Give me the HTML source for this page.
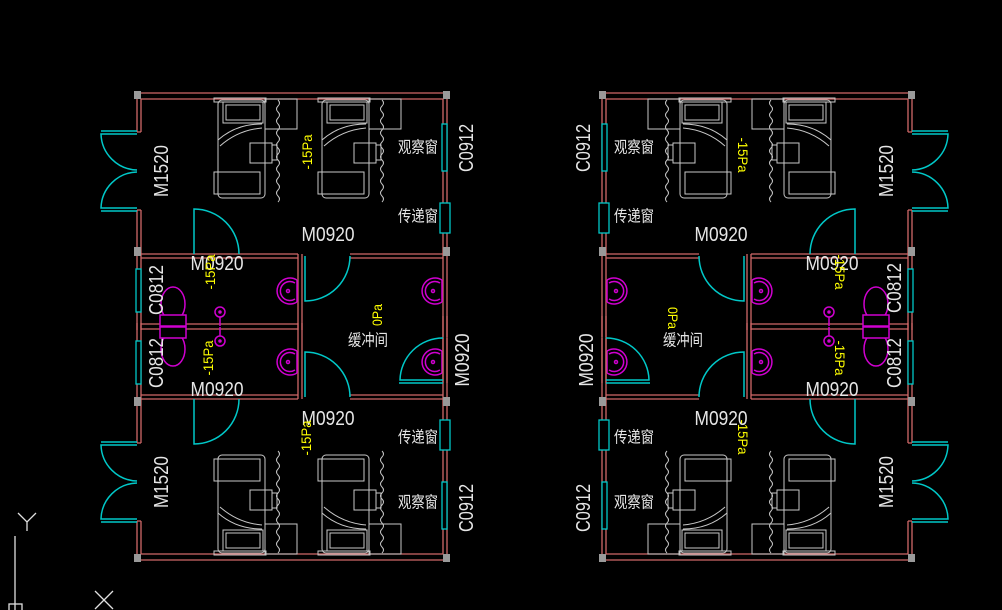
<!DOCTYPE html>
<html><head><meta charset="utf-8"><style>
html,body{margin:0;padding:0;background:#000;}
svg{display:block;}
text{font-family:"Liberation Sans","Noto Sans CJK SC",sans-serif;}
.w{fill:#e6e6e6;}
.y{fill:#ffff00;}
</style></head><body>
<svg width="1002" height="610" viewBox="0 0 1002 610" xmlns="http://www.w3.org/2000/svg">
<defs>
<g id="bed" fill="none" stroke="#c8c8c8" stroke-width="1">
  <rect x="214" y="98" width="52" height="4"/>
  <rect x="218" y="100" width="47" height="98" rx="4"/>
  <rect x="223" y="102" width="40" height="21"/>
  <rect x="226" y="105" width="34" height="15"/>
  <path d="M218,140 Q236,124 262,124 M220,146 Q238,130 262,128"/>
  <rect x="214" y="172" width="46" height="22"/>
  <rect x="250" y="143" width="22" height="20"/>
  <rect x="272" y="145" width="5" height="15"/>
  <rect x="265" y="99" width="32" height="30"/>
  <path d="M278,100 q3,3 0,6 q-3,3 0,6 q3,3 0,6 q-3,3 0,6 q3,3 0,6 q-3,3 0,6 q3,3 0,6 q-3,3 0,6 q3,3 0,6 q-3,3 0,6 q3,3 0,6 q-3,3 0,6 q3,3 0,6 q-3,3 0,6 q3,3 0,6 q-3,3 0,6 q3,3 0,6"/>
</g>
<g id="sink" fill="none" stroke="#d000d0" stroke-width="1.5">
  <path d="M297,280 A13,13 0 1 0 297,302"/>
  <path d="M295,283 A9.5,9.5 0 1 0 295,299"/>
  <path d="M297,280 V302"/>
  <circle cx="288" cy="291" r="1.5"/>
</g>
<g id="half">
  <g stroke="#d06868" stroke-width="1.3" fill="none">
    <path d="M137,93 H447 M141,99 H443"/>
    <path d="M137,93 V132 M141,99 V132 M137,210 V330 M141,210 V330"/>
    <path d="M443,99 V337 M447,93 V337"/>
    <path d="M141,254 H298 M141,258 H298"/>
    <path d="M298,254 V330 M302,254 V330"/>
    <path d="M350,254 H443 M350,258 H443"/>
    <path d="M141,324 H298"/>
    <path d="M137,132 H141 M137,210 H141"/>
  </g>
  <g fill="#9a9a9a">
    <rect x="134" y="91" width="7" height="8"/>
    <rect x="443" y="91" width="7" height="8"/>
    <rect x="134" y="247" width="7" height="9"/>
    <rect x="443" y="247" width="7" height="9"/>
  </g>
  <g fill="#000" stroke="#00c8c8" stroke-width="1.3">
    <rect x="442" y="124" width="5" height="47"/>
    <rect x="440" y="203" width="10" height="30"/>
    <rect x="136" y="269" width="5" height="43"/>
  </g>
  <g fill="none" stroke="#00c8c8" stroke-width="1.5">
    <path d="M137,131 H101 M137,134 H101 A37,37 0 0 0 137,170"/>
    <path d="M137,211 H101 M137,208 H101 A37,37 0 0 1 137,172"/>
    <path d="M194,254 V209 A45,45 0 0 1 239,254"/>
    <path d="M305,256 V301 A45,45 0 0 0 350,256"/>
  </g>
  <use href="#sink"/>
  <use href="#sink" transform="translate(145,0)"/>
  <g fill="none" stroke="#d000d0" stroke-width="1.5">
    <ellipse cx="173" cy="304" rx="12" ry="17"/>
    <rect x="160" y="315" width="26" height="11" fill="#000"/>
    <circle cx="220" cy="312" r="5"/>
    <circle cx="220" cy="312" r="1" fill="#d000d0"/>
    <path d="M220,317 V326"/>
  </g>
  <use href="#bed"/>
  <use href="#bed" transform="translate(104,0)"/>
</g>
<g id="plan">
  <use href="#half"/>
  <use href="#half" transform="translate(0,653) scale(1,-1)"/>
  <g fill="none" stroke="#d06868" stroke-width="1.3">
    <path d="M443,383 V338 M447,383 V338"/>
  </g>
  <path d="M443,383 H399 M443,380 H400 A43,43 0 0 1 443,338" fill="none" stroke="#00c8c8" stroke-width="1.5"/>
</g>
</defs>

<use href="#plan"/>
<use href="#plan" transform="translate(1049,0) scale(-1,1)"/>

<g class="w" font-size="20">
  <text x="162" y="171" transform="rotate(-90 162 171)" text-anchor="middle" dominant-baseline="central" textLength="52" lengthAdjust="spacingAndGlyphs">M1520</text>
  <text x="162" y="482" transform="rotate(-90 162 482)" text-anchor="middle" dominant-baseline="central" textLength="52" lengthAdjust="spacingAndGlyphs">M1520</text>
  <text x="467" y="148" transform="rotate(-90 467 148)" text-anchor="middle" dominant-baseline="central" textLength="48" lengthAdjust="spacingAndGlyphs">C0912</text>
  <text x="467" y="508" transform="rotate(-90 467 508)" text-anchor="middle" dominant-baseline="central" textLength="48" lengthAdjust="spacingAndGlyphs">C0912</text>
  <text x="328" y="235" text-anchor="middle" dominant-baseline="central" textLength="53" lengthAdjust="spacingAndGlyphs">M0920</text>
  <text x="328" y="419" text-anchor="middle" dominant-baseline="central" textLength="53" lengthAdjust="spacingAndGlyphs">M0920</text>
  <text x="217" y="264" text-anchor="middle" dominant-baseline="central" textLength="53" lengthAdjust="spacingAndGlyphs">M0920</text>
  <text x="217" y="390" text-anchor="middle" dominant-baseline="central" textLength="53" lengthAdjust="spacingAndGlyphs">M0920</text>
  <text x="157" y="290" transform="rotate(-90 157 290)" text-anchor="middle" dominant-baseline="central" textLength="50" lengthAdjust="spacingAndGlyphs">C0812</text>
  <text x="157" y="363" transform="rotate(-90 157 363)" text-anchor="middle" dominant-baseline="central" textLength="50" lengthAdjust="spacingAndGlyphs">C0812</text>
  <text x="463" y="360" transform="rotate(-90 463 360)" text-anchor="middle" dominant-baseline="central" textLength="53" lengthAdjust="spacingAndGlyphs">M0920</text>
</g>
<g class="w" font-size="16">
  <text x="418" y="148" text-anchor="middle" dominant-baseline="central" textLength="40" lengthAdjust="spacingAndGlyphs">观察窗</text>
  <text x="418" y="217" text-anchor="middle" dominant-baseline="central" textLength="40" lengthAdjust="spacingAndGlyphs">传递窗</text>
  <text x="418" y="438" text-anchor="middle" dominant-baseline="central" textLength="40" lengthAdjust="spacingAndGlyphs">传递窗</text>
  <text x="418" y="503" text-anchor="middle" dominant-baseline="central" textLength="40" lengthAdjust="spacingAndGlyphs">观察窗</text>
  <text x="368" y="341" text-anchor="middle" dominant-baseline="central" textLength="40" lengthAdjust="spacingAndGlyphs">缓冲间</text>
</g>
<g class="y" font-size="14">
  <text x="307" y="152" transform="rotate(-90 307 152)" text-anchor="middle" dominant-baseline="central" textLength="35" lengthAdjust="spacingAndGlyphs">-15Pa</text>
  <text x="306" y="438" transform="rotate(-90 306 438)" text-anchor="middle" dominant-baseline="central" textLength="35" lengthAdjust="spacingAndGlyphs">-15Pa</text>
  <text x="210" y="272" transform="rotate(-90 210 272)" text-anchor="middle" dominant-baseline="central" textLength="35" lengthAdjust="spacingAndGlyphs">-15Pa</text>
  <text x="208" y="358" transform="rotate(-90 208 358)" text-anchor="middle" dominant-baseline="central" textLength="35" lengthAdjust="spacingAndGlyphs">-15Pa</text>
  <text x="377" y="315" transform="rotate(-90 377 315)" text-anchor="middle" dominant-baseline="central" textLength="22" lengthAdjust="spacingAndGlyphs">0Pa</text>
</g>

<g class="w" font-size="20">
  <text x="887" y="171" transform="rotate(-90 887 171)" text-anchor="middle" dominant-baseline="central" textLength="52" lengthAdjust="spacingAndGlyphs">M1520</text>
  <text x="887" y="482" transform="rotate(-90 887 482)" text-anchor="middle" dominant-baseline="central" textLength="52" lengthAdjust="spacingAndGlyphs">M1520</text>
  <text x="584" y="148" transform="rotate(-90 584 148)" text-anchor="middle" dominant-baseline="central" textLength="48" lengthAdjust="spacingAndGlyphs">C0912</text>
  <text x="584" y="508" transform="rotate(-90 584 508)" text-anchor="middle" dominant-baseline="central" textLength="48" lengthAdjust="spacingAndGlyphs">C0912</text>
  <text x="721" y="235" text-anchor="middle" dominant-baseline="central" textLength="53" lengthAdjust="spacingAndGlyphs">M0920</text>
  <text x="721" y="419" text-anchor="middle" dominant-baseline="central" textLength="53" lengthAdjust="spacingAndGlyphs">M0920</text>
  <text x="832" y="264" text-anchor="middle" dominant-baseline="central" textLength="53" lengthAdjust="spacingAndGlyphs">M0920</text>
  <text x="832" y="390" text-anchor="middle" dominant-baseline="central" textLength="53" lengthAdjust="spacingAndGlyphs">M0920</text>
  <text x="895" y="288" transform="rotate(-90 895 288)" text-anchor="middle" dominant-baseline="central" textLength="50" lengthAdjust="spacingAndGlyphs">C0812</text>
  <text x="895" y="363" transform="rotate(-90 895 363)" text-anchor="middle" dominant-baseline="central" textLength="50" lengthAdjust="spacingAndGlyphs">C0812</text>
  <text x="587" y="360" transform="rotate(-90 587 360)" text-anchor="middle" dominant-baseline="central" textLength="53" lengthAdjust="spacingAndGlyphs">M0920</text>
</g>
<g class="w" font-size="16">
  <text x="634" y="148" text-anchor="middle" dominant-baseline="central" textLength="40" lengthAdjust="spacingAndGlyphs">观察窗</text>
  <text x="634" y="217" text-anchor="middle" dominant-baseline="central" textLength="40" lengthAdjust="spacingAndGlyphs">传递窗</text>
  <text x="634" y="438" text-anchor="middle" dominant-baseline="central" textLength="40" lengthAdjust="spacingAndGlyphs">传递窗</text>
  <text x="634" y="503" text-anchor="middle" dominant-baseline="central" textLength="40" lengthAdjust="spacingAndGlyphs">观察窗</text>
  <text x="683" y="341" text-anchor="middle" dominant-baseline="central" textLength="40" lengthAdjust="spacingAndGlyphs">缓冲间</text>
</g>
<g class="y" font-size="14">
  <text x="743" y="155" transform="rotate(90 743 155)" text-anchor="middle" dominant-baseline="central" textLength="35" lengthAdjust="spacingAndGlyphs">-15Pa</text>
  <text x="743" y="437" transform="rotate(90 743 437)" text-anchor="middle" dominant-baseline="central" textLength="35" lengthAdjust="spacingAndGlyphs">-15Pa</text>
  <text x="840" y="272" transform="rotate(90 840 272)" text-anchor="middle" dominant-baseline="central" textLength="35" lengthAdjust="spacingAndGlyphs">-15Pa</text>
  <text x="840" y="358" transform="rotate(90 840 358)" text-anchor="middle" dominant-baseline="central" textLength="35" lengthAdjust="spacingAndGlyphs">-15Pa</text>
  <text x="673" y="318" transform="rotate(90 673 318)" text-anchor="middle" dominant-baseline="central" textLength="22" lengthAdjust="spacingAndGlyphs">0Pa</text>
</g>

<g stroke="#e0e0e0" stroke-width="1.3" fill="none">
  <path d="M18,513 L27,522 L36,513 M27,522 V531"/>
  <path d="M15,536 V610"/>
  <rect x="9" y="604" width="13" height="8"/>
  <path d="M95,591 L113,609 M113,591 L95,609"/>
</g>
</svg>
</body></html>
